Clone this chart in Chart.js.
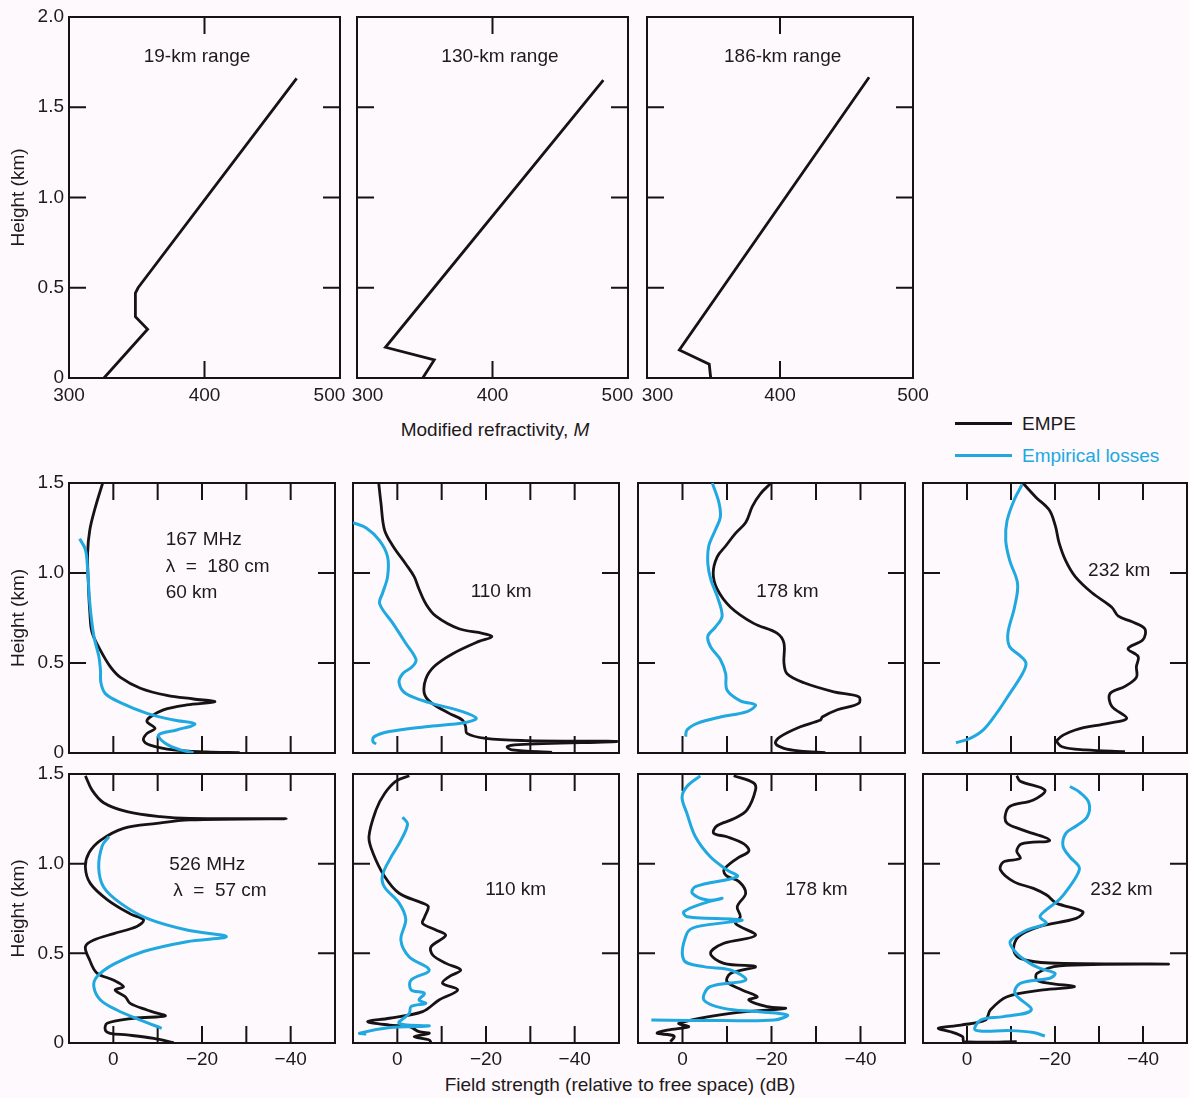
<!DOCTYPE html>
<html>
<head>
<meta charset="utf-8">
<title>EMPE vs empirical losses</title>
<script src="https://cdn.jsdelivr.net/npm/chart.js@4.4.1/dist/chart.umd.min.js"></script>
<style>
  html, body { margin: 0; padding: 0; background: #fdf9fd; overflow: hidden; }
  #page { position: relative; width: 1189px; height: 1098px; overflow: hidden;
          font-family: 'Liberation Sans', Arial, sans-serif; color: #1d1a1b; }
  .panel { position: absolute; }
  .lbl { position: absolute; font-size: 19px; white-space: nowrap; }
  .swatch { position: absolute; height: 3px; }
</style>
</head>
<body>
<div id="page">
  <div class="lbl" style="left:495px; top:430px; transform:translate(-50%,-50%);">Modified refractivity, <i>M</i></div>
  <div class="lbl" style="left:620px; top:1085px; transform:translate(-50%,-50%);">Field strength (relative to free space) (dB)</div>
  <div class="swatch" style="left:955px; top:422px; width:57px; background:#161314;"></div>
  <div class="lbl" style="left:1022px; top:424px; transform:translateY(-50%);">EMPE</div>
  <div class="swatch" style="left:955px; top:454px; width:57px; background:#20a8e0;"></div>
  <div class="lbl" style="left:1022px; top:456px; transform:translateY(-50%); color:#20a8e0;">Empirical losses</div>
</div>
<script>
// modified refractivity profiles [M, height km]
const refr19  = [[325.8, 0], [358, 0.27], [349, 0.34], [349, 0.47], [351, 0.5], [468, 1.66]];
const refr130 = [[348.5, 0], [357, 0.1], [321, 0.17], [481.8, 1.65]];
const refr186 = [[347.9, 0], [346.8, 0.076], [324.3, 0.155], [467, 1.666]];

// field strength profiles [dB, height km], 167 MHz
const empe167_60 = [[2.4,1.5],[4.0,1.37],[5.3,1.24],[5.8,1.11],[5.6,0.92],[5.3,0.78],[4.8,0.67],[2.9,0.57],[0.7,0.48],[-1.6,0.42],[-6.1,0.36],[-12.1,0.32],[-18.1,0.3],[-22.9,0.285],[-16.6,0.267],[-11.3,0.24],[-8.3,0.2],[-7.6,0.174],[-9.4,0.137],[-7.6,0.109],[-6.8,0.072],[-8.3,0.044],[-13.6,0.017],[-21,0.006],[-28.5,0.002]];
const emp167_60 = [[7.6,1.19],[6.3,1.13],[5.8,1.02],[5.3,0.83],[4.4,0.65],[3.3,0.54],[2.9,0.46],[2.8,0.39],[1.8,0.33],[-1.6,0.28],[-7.6,0.22],[-13.6,0.183],[-18.4,0.161],[-14.3,0.128],[-10.2,0.1],[-11.7,0.054],[-15.1,0.017],[-18.1,0.002]];

const empe167_110 = [[4.2,1.5],[3.7,1.39],[2.9,1.24],[1.0,1.15],[-1.9,1.05],[-3.8,0.98],[-4.9,0.91],[-6.4,0.83],[-8.7,0.76],[-13.9,0.69],[-19.2,0.665],[-21.3,0.646],[-18.4,0.62],[-12.4,0.55],[-8.3,0.48],[-6.4,0.41],[-6.1,0.33],[-7.6,0.28],[-11.7,0.22],[-14.7,0.183],[-15.4,0.146],[-15.7,0.109],[-19.9,0.081],[-28.9,0.069],[-49.5,0.064],[-27.4,0.047],[-24.8,0.036],[-25.9,0.017],[-34.9,0.004]];
const emp167_110 = [[10,1.28],[7,1.25],[4,1.18],[2.2,1.09],[2.2,0.98],[3.3,0.89],[4,0.83],[1,0.72],[-1.9,0.61],[-4.2,0.52],[-3.4,0.48],[-1.2,0.44],[-0.4,0.39],[-1.9,0.33],[-7.2,0.28],[-14.7,0.23],[-17.8,0.193],[-15.4,0.17],[-6.4,0.146],[1.8,0.119],[5.2,0.091],[5.5,0.063],[4.8,0.05]];

const empe167_178 = [[-19.9,1.5],[-17.5,1.44],[-15.7,1.37],[-14.2,1.28],[-11.9,1.22],[-9.7,1.15],[-7.8,1.09],[-6.9,1.0],[-7.8,0.91],[-10.8,0.81],[-16,0.72],[-21.3,0.665],[-22.8,0.61],[-22.8,0.5],[-23.5,0.44],[-27.3,0.39],[-34,0.34],[-39.6,0.313],[-39.6,0.276],[-34.8,0.24],[-31.4,0.2],[-31,0.183],[-26.5,0.146],[-22,0.091],[-20.9,0.054],[-22.8,0.026],[-26.5,0.011],[-32.1,0.002]];
const emp167_178 = [[-6.7,1.5],[-8.2,1.39],[-8.5,1.31],[-7.4,1.24],[-5.9,1.15],[-5.7,1.05],[-6.4,0.96],[-7.8,0.87],[-8.9,0.76],[-7.4,0.7],[-5.7,0.65],[-6.3,0.59],[-8.5,0.52],[-9.7,0.44],[-10,0.35],[-13,0.29],[-16.4,0.267],[-14.5,0.23],[-8.5,0.2],[-3.3,0.165],[-1,0.128],[-0.7,0.091]];

const empe167_232 = [[-12.7,1.5],[-15.7,1.42],[-18.7,1.35],[-20.1,1.26],[-20.9,1.17],[-22.4,1.07],[-24.6,0.98],[-28.4,0.89],[-32.9,0.81],[-34.4,0.76],[-37.4,0.73],[-40.4,0.69],[-40,0.63],[-36.6,0.58],[-38.9,0.535],[-38.5,0.48],[-38.5,0.42],[-35.9,0.37],[-32.5,0.33],[-32.9,0.26],[-36.3,0.193],[-32.1,0.165],[-24.6,0.128],[-20.5,0.072],[-21.6,0.035],[-26.9,0.017],[-35.9,0.007]];
const emp167_232 = [[-12.5,1.49],[-10.8,1.41],[-9.1,1.29],[-8.8,1.18],[-9.7,1.07],[-11.5,0.94],[-10.8,0.81],[-9.3,0.665],[-9.7,0.59],[-11.9,0.544],[-13.4,0.5],[-12.6,0.44],[-9.7,0.33],[-6.7,0.22],[-3.7,0.128],[-0.7,0.081],[2.5,0.057]];

// 526 MHz
const empe526_60 = [[6.3,1.49],[4.8,1.41],[2.2,1.34],[-3.1,1.29],[-10.6,1.262],[-17.3,1.252],[-39,1.251],[-17.3,1.244],[-9.8,1.225],[-2.3,1.197],[2.9,1.13],[5.5,1.06],[6.3,0.98],[5.2,0.89],[1.4,0.8],[-3.8,0.72],[-6.8,0.686],[-5.3,0.65],[-0.1,0.61],[4.4,0.574],[6.3,0.537],[5.3,0.46],[3.7,0.39],[-0.1,0.35],[-2.3,0.314],[-0.4,0.296],[-2.7,0.258],[-3.8,0.221],[-7.6,0.184],[-8.7,0.175],[-11.7,0.151],[-4.6,0.138],[1.4,0.11],[1.8,0.072],[0.7,0.054],[-3.1,0.045],[-9.1,0.026],[-13.6,0.002]];
const emp526_60 = [[1,1.15],[2.5,1.1],[3.3,0.98],[2.2,0.87],[-1.6,0.78],[-7.6,0.695],[-16.6,0.63],[-25.5,0.593],[-16.6,0.565],[-6.8,0.51],[-0.1,0.44],[3.7,0.37],[4.4,0.314],[2.9,0.24],[-0.8,0.184],[-6.1,0.128],[-10.9,0.082]];

const empe526_110 = [[-2.7,1.49],[0.3,1.46],[2.9,1.39],[4.8,1.3],[6.4,1.15],[5.5,1.06],[2.9,0.93],[-0.4,0.835],[-5.7,0.78],[-7,0.76],[-6.1,0.7],[-5.7,0.667],[-8.7,0.63],[-10.9,0.6],[-7.6,0.537],[-8,0.49],[-11,0.444],[-14.3,0.407],[-11.7,0.37],[-10.2,0.333],[-13.6,0.296],[-9.4,0.24],[-5.7,0.175],[1.8,0.138],[6.7,0.119],[1.8,0.1],[-2.7,0.091],[-4.9,0.063],[-7.2,0.054],[-3.8,0.035],[-7.2,0.017],[-7.6,0.002]];
const emp526_110 = [[-1.2,1.26],[-2.3,1.22],[-0.8,1.13],[1.8,1.02],[3.4,0.93],[2.9,0.87],[-0.4,0.78],[-1.9,0.69],[-0.8,0.574],[-2.7,0.48],[-7.2,0.407],[-3.1,0.351],[-3.1,0.296],[-6.1,0.277],[-4.9,0.24],[-6.4,0.221],[-3.1,0.203],[-2.7,0.165],[-0.4,0.11],[-7.2,0.095],[2,0.085],[8.5,0.055],[7,0.05]];

const empe526_178 = [[-11.5,1.49],[-16,1.45],[-16.4,1.41],[-14.5,1.3],[-11.5,1.25],[-7.7,1.21],[-7,1.17],[-10,1.15],[-13.8,1.11],[-14.9,1.07],[-12.3,1.03],[-9.3,0.965],[-10,0.93],[-12.7,0.9],[-14.2,0.835],[-12.3,0.76],[-13,0.704],[-11.9,0.667],[-16.4,0.6],[-9.3,0.556],[-6.3,0.5],[-9.3,0.444],[-16.4,0.426],[-10.8,0.388],[-10,0.342],[-13.4,0.296],[-16.8,0.258],[-14.9,0.24],[-19,0.203],[-23.1,0.193],[-10.8,0.165],[0.8,0.11],[-1.4,0.091],[3.4,0.072],[5.7,0.054],[1.9,0.039],[2.7,0.007]];
const emp526_178 = [[-4,1.49],[-1,1.43],[0.1,1.37],[-1,1.28],[-2.9,1.15],[-6.2,1.04],[-10,0.965],[-12.3,0.928],[-2.9,0.872],[-2.2,0.835],[-5.6,0.797],[-8.9,0.807],[-4.8,0.78],[-0.3,0.732],[-1,0.704],[-13.4,0.686],[-3.3,0.649],[-1,0.612],[-0.3,0.463],[-4.8,0.426],[-10.8,0.407],[-14.2,0.351],[-6.2,0.314],[-4.8,0.24],[-9.3,0.193],[-16.8,0.175],[-23.6,0.156],[-20.6,0.128],[-9.3,0.125],[7,0.128]];

const empe526_232 = [[-11.3,1.49],[-12.1,1.46],[-17.7,1.41],[-15.1,1.355],[-9.8,1.32],[-8.7,1.27],[-9.1,1.225],[-12.4,1.19],[-18.8,1.13],[-12.4,1.11],[-11.3,1.07],[-12.1,1.03],[-8.3,1.01],[-7.6,0.965],[-10.6,0.9],[-15.1,0.862],[-18.1,0.825],[-20.3,0.78],[-26.3,0.732],[-24.8,0.695],[-16.6,0.65],[-11.7,0.593],[-10.6,0.52],[-12.1,0.472],[-18.8,0.446],[-45.8,0.44],[-21.1,0.43],[-15.9,0.388],[-15.9,0.351],[-18.8,0.333],[-24.4,0.314],[-17.3,0.296],[-9.1,0.258],[-5.3,0.184],[-4.2,0.128],[1.4,0.1],[6.5,0.082],[3.7,0.063],[1,0.035],[0.7,0.007],[-11.3,0.007]];
const emp526_232 = [[-23.4,1.43],[-25.5,1.4],[-27.7,1.34],[-27.3,1.26],[-24.8,1.21],[-22.5,1.17],[-21.8,1.1],[-23.3,1.04],[-25.5,0.98],[-25.1,0.94],[-23.3,0.87],[-21,0.8],[-18,0.742],[-16.6,0.704],[-18,0.667],[-13.6,0.63],[-9.8,0.565],[-11.3,0.5],[-14.3,0.444],[-16.6,0.416],[-20,0.388],[-18.8,0.361],[-12.1,0.333],[-10.9,0.277],[-14.6,0.184],[-8.3,0.147],[-3.1,0.128],[-1.9,0.072],[-9.8,0.069],[-15.1,0.058],[-17.7,0.039]];

const INK = '#161314';
const BLUE = '#20a8e0';
const FSP = '\u2007\u2007'; // nudges edge labels off the panel corners

Chart.defaults.font.family = "'Liberation Sans', Arial, sans-serif";
Chart.defaults.font.size = 19;
Chart.defaults.color = '#1d1a1b';

// box + inward tick marks on all four sides
const framePlugin = {
  id: 'frame',
  beforeDatasetsDraw(chart) {
    const { ctx, chartArea: a, scales: { x, y } } = chart;
    const len = 17;
    ctx.save();
    ctx.strokeStyle = INK;
    ctx.lineWidth = 2;
    ctx.strokeRect(a.left, a.top, a.right - a.left, a.bottom - a.top);
    ctx.beginPath();
    x.ticks.forEach(t => {
      if (t.value <= x.min || t.value >= x.max) return;
      const px = x.getPixelForValue(t.value);
      ctx.moveTo(px, a.top); ctx.lineTo(px, a.top + len);
      ctx.moveTo(px, a.bottom); ctx.lineTo(px, a.bottom - len);
    });
    y.ticks.forEach(t => {
      if (t.value <= y.min || t.value >= y.max) return;
      const py = y.getPixelForValue(t.value);
      ctx.moveTo(a.left, py); ctx.lineTo(a.left + len, py);
      ctx.moveTo(a.right, py); ctx.lineTo(a.right - len, py);
    });
    ctx.stroke();
    ctx.restore();
  }
};

// text notes placed in data coordinates
const notePlugin = {
  id: 'note',
  afterDraw(chart, args, opts) {
    if (!opts.items) return;
    const { ctx, scales: { x, y } } = chart;
    ctx.save();
    ctx.font = "19px 'Liberation Sans', Arial, sans-serif";
    ctx.fillStyle = '#1d1a1b';
    ctx.textBaseline = 'middle';
    opts.items.forEach(it => {
      ctx.textAlign = it.align || 'center';
      ctx.fillText(it.text, x.getPixelForValue(it.x), y.getPixelForValue(it.y));
    });
    ctx.restore();
  }
};

function line(pts, color, tension) {
  return {
    data: pts.map(p => ({ x: p[0], y: p[1] })),
    showLine: true,
    borderColor: color,
    borderWidth: color === INK ? 2.8 : 3,
    pointRadius: 0,
    tension: tension,
    fill: false
  };
}

function panel(plot, pad, datasets, xScale, yScale, notes) {
  const div = document.createElement('div');
  div.className = 'panel';
  div.style.left = (plot[0] - pad.l) + 'px';
  div.style.top = (plot[1] - pad.t) + 'px';
  const canvas = document.createElement('canvas');
  canvas.width = plot[2] - plot[0] + pad.l + pad.r;
  canvas.height = plot[3] - plot[1] + pad.t + pad.b;
  div.appendChild(canvas);
  document.getElementById('page').appendChild(div);

  xScale.afterFit = s => { s.height = pad.b; };
  yScale.afterFit = s => { s.width = pad.l; };

  new Chart(canvas, {
    type: 'scatter',
    data: { datasets: datasets },
    options: {
      responsive: false,
      animation: false,
      layout: { padding: { left: 0, top: pad.t, right: pad.r, bottom: 0 } },
      plugins: {
        legend: { display: false },
        tooltip: { enabled: false },
        note: { items: notes }
      },
      scales: { x: xScale, y: yScale }
    },
    plugins: [framePlugin, notePlugin]
  });
}

function refrX(nudgeLeft, nudgeRight) {
  return {
    type: 'linear', min: 300, max: 500,
    grid: { display: false, drawTicks: false }, border: { display: false },
    ticks: {
      stepSize: 100, padding: 6, autoSkip: false, maxRotation: 0, color: '#1d1a1b',
      callback: v => {
        if (v === 300 && nudgeLeft) return FSP + v;
        if (v === 500 && nudgeRight) return v + FSP;
        return String(v);
      }
    }
  };
}

function heightY(max, showLabels) {
  const s = {
    type: 'linear', min: 0, max: max,
    grid: { display: false, drawTicks: false }, border: { display: false },
    ticks: {
      display: showLabels, stepSize: 0.5, padding: 5, autoSkip: false, color: '#1d1a1b',
      callback: v => v === 0 ? '0' : v.toFixed(1)
    }
  };
  if (showLabels) {
    s.title = { display: true, text: 'Height (km)', font: { size: 19 }, padding: { top: 7, bottom: 0 }, color: '#1d1a1b' };
  }
  return s;
}

function fieldX(showLabels) {
  return {
    type: 'linear', min: -50, max: 10, reverse: true,
    grid: { display: false, drawTicks: false }, border: { display: false },
    ticks: {
      display: showLabels, stepSize: 10, padding: 5, autoSkip: false, maxRotation: 0, color: '#1d1a1b',
      callback: v => {
        if (v === 0) return '0';
        if (v === -20 || v === -40) return '\u2212' + Math.abs(v);
        return '';
      }
    }
  };
}

// top row: refractivity profiles
const topRow = [
  { plot: [69, 17, 340, 378], data: refr19, label: '19-km range', lx: 394.5 },
  { plot: [357, 17, 628, 378], data: refr130, label: '130-km range', lx: 405.5 },
  { plot: [647, 17, 913, 378], data: refr186, label: '186-km range', lx: 402 }
];
topRow.forEach((p, i) => {
  panel(p.plot, { l: i === 0 ? 69 : 36, t: 18, r: 36, b: 34 },
    [line(p.data, INK, 0)],
    refrX(i > 0, i < 2), heightY(2, i === 0),
    [{ x: p.lx, y: 1.78, text: p.label }]);
});

// field strength panels
const cols = [[69, 335], [353, 619], [638, 905], [923, 1187]];
const rows = [[483, 753], [774, 1043]];
const fieldPanels = [
  [empe167_60, emp167_60, [{ x: -11.8, y: 1.183, text: '167 MHz', align: 'left' }, { x: -11.8, y: 1.035, text: '\u03bb  =  180 cm', align: 'left' }, { x: -11.8, y: 0.891, text: '60 km', align: 'left' }]],
  [empe167_110, emp167_110, [{ x: -23.4, y: 0.894, text: '110 km' }]],
  [empe167_178, emp167_178, [{ x: -23.6, y: 0.894, text: '178 km' }]],
  [empe167_232, emp167_232, [{ x: -34.6, y: 1.013, text: '232 km' }]],
  [empe526_60, emp526_60, [{ x: -12.6, y: 0.993, text: '526 MHz', align: 'left' }, { x: -13.5, y: 0.848, text: '\u03bb  =  57 cm', align: 'left' }]],
  [empe526_110, emp526_110, [{ x: -26.7, y: 0.853, text: '110 km' }]],
  [empe526_178, emp526_178, [{ x: -30.1, y: 0.853, text: '178 km' }]],
  [empe526_232, emp526_232, [{ x: -35.1, y: 0.853, text: '232 km' }]]
];
fieldPanels.forEach((p, i) => {
  const r = Math.floor(i / 4), c = i % 4;
  panel([cols[c][0], rows[r][0], cols[c][1], rows[r][1]],
    { l: c === 0 ? 69 : 24, t: 18, r: 24, b: r === 0 ? 18 : 34 },
    [line(p[1], BLUE, 0.35), line(p[0], INK, 0.35)],
    fieldX(r === 1), heightY(1.5, c === 0),
    p[2]);
});
</script>
</body>
</html>
